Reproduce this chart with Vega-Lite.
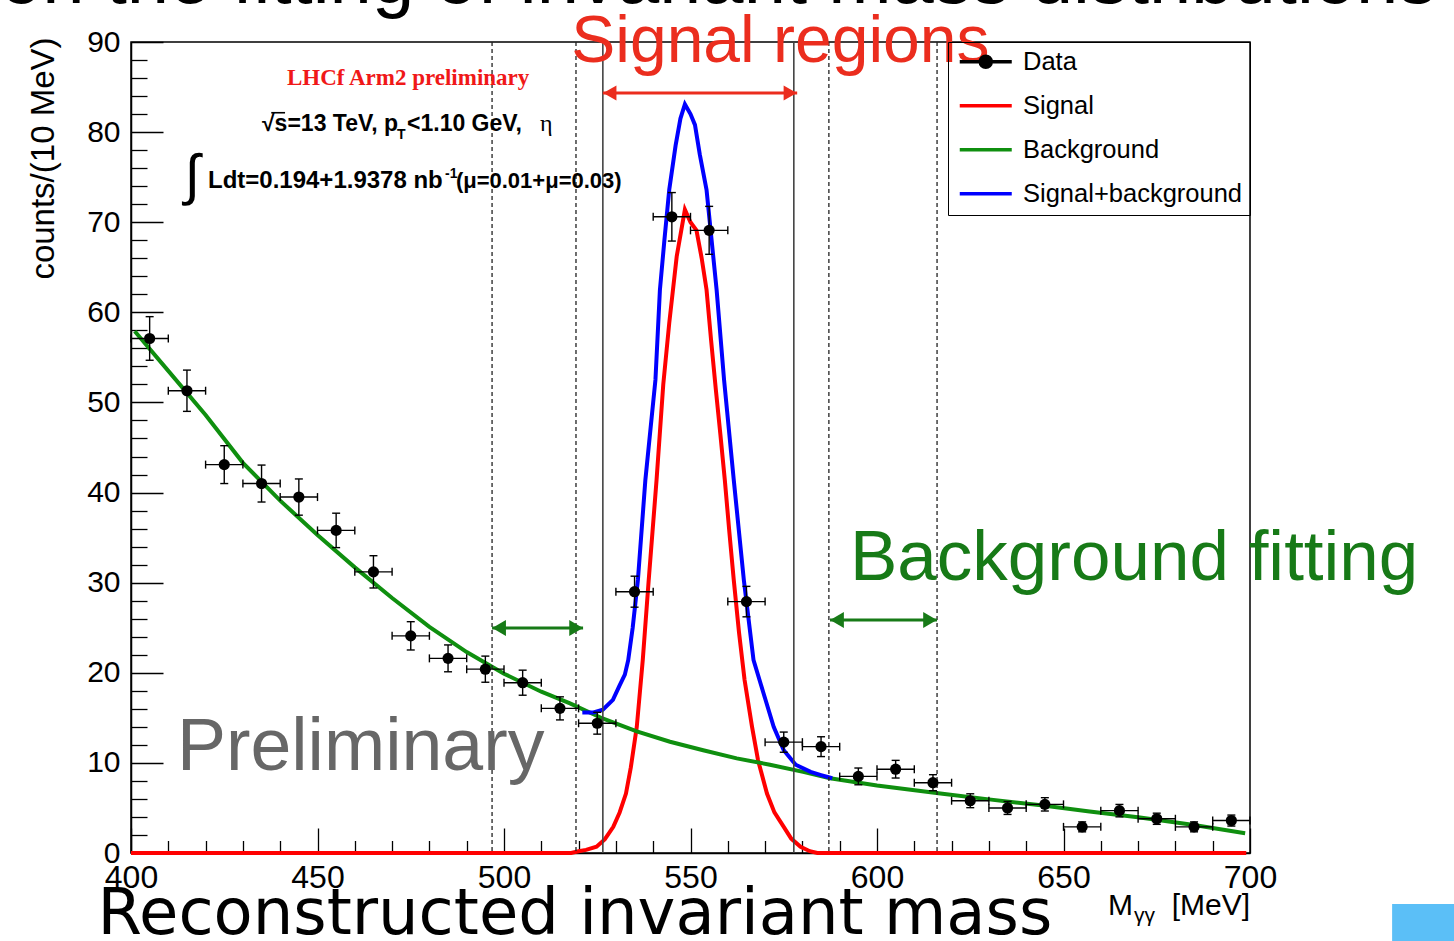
{
 "$schema": "https://vega.github.io/schema/vega-lite/v6.json",
 "width": 1119, "height": 811,
 "autosize": {"type": "none"},
 "padding": {"left": 131, "top": 42, "right": 204, "bottom": 88},
 "background": "white",
 "config": {"view": {"stroke": "black", "strokeWidth": 1.5}, "font": "Liberation Sans"},
 "datasets": {
  "pts": [
   {"m":405,"v":57.1,"lo":54.68,"hi":59.52,"ml":400,"mh":410,"s":"Data"},
   {"m":415,"v":51.3,"lo":49.01,"hi":53.59,"ml":410,"mh":420,"s":"Data"},
   {"m":425,"v":43.1,"lo":41.0,"hi":45.2,"ml":420,"mh":430,"s":"Data"},
   {"m":435,"v":41.0,"lo":38.95,"hi":43.05,"ml":430,"mh":440,"s":"Data"},
   {"m":445,"v":39.5,"lo":37.49,"hi":41.51,"ml":440,"mh":450,"s":"Data"},
   {"m":455,"v":35.8,"lo":33.89,"hi":37.71,"ml":450,"mh":460,"s":"Data"},
   {"m":465,"v":31.2,"lo":29.41,"hi":32.99,"ml":460,"mh":470,"s":"Data"},
   {"m":475,"v":24.1,"lo":22.53,"hi":25.67,"ml":470,"mh":480,"s":"Data"},
   {"m":485,"v":21.6,"lo":20.11,"hi":23.09,"ml":480,"mh":490,"s":"Data"},
   {"m":495,"v":20.4,"lo":18.95,"hi":21.85,"ml":490,"mh":500,"s":"Data"},
   {"m":505,"v":18.9,"lo":17.51,"hi":20.29,"ml":500,"mh":510,"s":"Data"},
   {"m":515,"v":16.05,"lo":14.77,"hi":17.33,"ml":510,"mh":520,"s":"Data"},
   {"m":525,"v":14.4,"lo":13.19,"hi":15.61,"ml":520,"mh":530,"s":"Data"},
   {"m":535,"v":29.0,"lo":27.28,"hi":30.72,"ml":530,"mh":540,"s":"Data"},
   {"m":545,"v":70.6,"lo":67.91,"hi":73.29,"ml":540,"mh":550,"s":"Data"},
   {"m":555,"v":69.1,"lo":66.44,"hi":71.76,"ml":550,"mh":560,"s":"Data"},
   {"m":565,"v":27.9,"lo":26.21,"hi":29.59,"ml":560,"mh":570,"s":"Data"},
   {"m":575,"v":12.3,"lo":11.18,"hi":13.42,"ml":570,"mh":580,"s":"Data"},
   {"m":585,"v":11.8,"lo":10.7,"hi":12.9,"ml":580,"mh":590,"s":"Data"},
   {"m":595,"v":8.5,"lo":7.57,"hi":9.43,"ml":590,"mh":600,"s":"Data"},
   {"m":605,"v":9.3,"lo":8.32,"hi":10.28,"ml":600,"mh":610,"s":"Data"},
   {"m":615,"v":7.8,"lo":6.91,"hi":8.69,"ml":610,"mh":620,"s":"Data"},
   {"m":625,"v":5.8,"lo":5.03,"hi":6.57,"ml":620,"mh":630,"s":"Data"},
   {"m":635,"v":5.0,"lo":4.28,"hi":5.72,"ml":630,"mh":640,"s":"Data"},
   {"m":645,"v":5.4,"lo":4.66,"hi":6.14,"ml":640,"mh":650,"s":"Data"},
   {"m":655,"v":2.9,"lo":2.35,"hi":3.45,"ml":650,"mh":660,"s":"Data"},
   {"m":665,"v":4.7,"lo":4.01,"hi":5.39,"ml":660,"mh":670,"s":"Data"},
   {"m":675,"v":3.8,"lo":3.18,"hi":4.42,"ml":670,"mh":680,"s":"Data"},
   {"m":685,"v":2.9,"lo":2.35,"hi":3.45,"ml":680,"mh":690,"s":"Data"},
   {"m":695,"v":3.6,"lo":2.99,"hi":4.21,"ml":690,"mh":700,"s":"Data"}
  ],
  "curves": [
   {"s":"Signal","m":400,"v":0},{"s":"Signal","m":518,"v":0},{"s":"Signal","m":520,"v":0.2},{"s":"Signal","m":522,"v":0.35},{"s":"Signal","m":524.8,"v":0.7},{"s":"Signal","m":527,"v":1.5},{"s":"Signal","m":529.3,"v":2.9},{"s":"Signal","m":531,"v":4.5},{"s":"Signal","m":532.7,"v":6.6},{"s":"Signal","m":534,"v":9.5},{"s":"Signal","m":535.6,"v":14},{"s":"Signal","m":537.2,"v":21.4},{"s":"Signal","m":538.8,"v":30.3},{"s":"Signal","m":540.9,"v":41.4},{"s":"Signal","m":542.7,"v":52},{"s":"Signal","m":544.3,"v":58.8},{"s":"Signal","m":546.3,"v":66.2},{"s":"Signal","m":548.5,"v":71.4},{"s":"Signal","m":550,"v":70},{"s":"Signal","m":551.6,"v":69.1},{"s":"Signal","m":553,"v":66},{"s":"Signal","m":554.3,"v":62.5},{"s":"Signal","m":555.5,"v":57},{"s":"Signal","m":556.8,"v":51.4},{"s":"Signal","m":558,"v":46.5},{"s":"Signal","m":559.2,"v":41.4},{"s":"Signal","m":560.4,"v":35.7},{"s":"Signal","m":561.6,"v":30.3},{"s":"Signal","m":563,"v":24.5},{"s":"Signal","m":564.5,"v":19.2},{"s":"Signal","m":566.5,"v":14},{"s":"Signal","m":568.1,"v":10.3},{"s":"Signal","m":570.5,"v":6.6},{"s":"Signal","m":572.5,"v":4.5},{"s":"Signal","m":575,"v":2.9},{"s":"Signal","m":577,"v":1.6},{"s":"Signal","m":579.5,"v":0.7},{"s":"Signal","m":582,"v":0.2},{"s":"Signal","m":584,"v":0},{"s":"Signal","m":699,"v":0},
   {"s":"Background","m":401,"v":57.9},{"s":"Background","m":410,"v":53.5},{"s":"Background","m":420,"v":48.6},{"s":"Background","m":430,"v":43.3},{"s":"Background","m":440,"v":39.1},{"s":"Background","m":450,"v":35.3},{"s":"Background","m":460,"v":31.7},{"s":"Background","m":470,"v":28.3},{"s":"Background","m":480,"v":25.1},{"s":"Background","m":490,"v":22.3},{"s":"Background","m":500,"v":19.9},{"s":"Background","m":510,"v":17.9},{"s":"Background","m":517.7,"v":16.6},{"s":"Background","m":526.6,"v":14.9},{"s":"Background","m":535.6,"v":13.5},{"s":"Background","m":544.5,"v":12.35},{"s":"Background","m":553.4,"v":11.4},{"s":"Background","m":562.4,"v":10.5},{"s":"Background","m":571.3,"v":9.8},{"s":"Background","m":580.2,"v":9.0},{"s":"Background","m":587.4,"v":8.3},{"s":"Background","m":600,"v":7.5},{"s":"Background","m":617,"v":6.6},{"s":"Background","m":630,"v":5.95},{"s":"Background","m":644,"v":5.3},{"s":"Background","m":657,"v":4.6},{"s":"Background","m":670.5,"v":3.95},{"s":"Background","m":685,"v":3.1},{"s":"Background","m":698.7,"v":2.2},
   {"s":"Signal+background","m":521,"v":15.6},{"s":"Signal+background","m":524,"v":15.6},{"s":"Signal+background","m":526.5,"v":15.9},{"s":"Signal+background","m":529.2,"v":17.0},{"s":"Signal+background","m":531,"v":18.6},{"s":"Signal+background","m":532.4,"v":19.8},{"s":"Signal+background","m":533.3,"v":21.4},{"s":"Signal+background","m":534.5,"v":25.0},{"s":"Signal+background","m":535.9,"v":30.3},{"s":"Signal+background","m":537.9,"v":41.4},{"s":"Signal+background","m":540.6,"v":52.5},{"s":"Signal+background","m":541.8,"v":62.5},{"s":"Signal+background","m":543,"v":68},{"s":"Signal+background","m":544.3,"v":73.6},{"s":"Signal+background","m":546,"v":78.5},{"s":"Signal+background","m":547.3,"v":81.5},{"s":"Signal+background","m":548.5,"v":83.1},{"s":"Signal+background","m":550,"v":82},{"s":"Signal+background","m":551.2,"v":80.8},{"s":"Signal+background","m":552.5,"v":77.5},{"s":"Signal+background","m":554.3,"v":73.6},{"s":"Signal+background","m":557,"v":62.5},{"s":"Signal+background","m":559,"v":52.5},{"s":"Signal+background","m":561.6,"v":41.4},{"s":"Signal+background","m":564.3,"v":30.3},{"s":"Signal+background","m":566.9,"v":21.4},{"s":"Signal+background","m":569.6,"v":17.7},{"s":"Signal+background","m":572.3,"v":14.0},{"s":"Signal+background","m":575,"v":11.4},{"s":"Signal+background","m":578.2,"v":9.8},{"s":"Signal+background","m":582.2,"v":9.0},{"s":"Signal+background","m":585,"v":8.65},{"s":"Signal+background","m":588,"v":8.3}
  ],
  "vlines": [
   {"m":496.8,"k":"dot"},{"m":519.3,"k":"dot"},{"m":587.1,"k":"dot"},{"m":616.1,"k":"dot"},
   {"m":526.5,"k":"solid"},{"m":577.7,"k":"solid"}
  ],
  "arrows": [
   {"k":"signal","a":526.5,"b":578.6,"v":84.34},
   {"k":"background","a":496.8,"b":521.2,"v":24.97},
   {"k":"background","a":587.4,"b":616.1,"v":25.86}
  ]
 },
 "layer": [
  {"data":{"name":"curves"},
   "mark":{"type":"line","strokeWidth":4},
   "encoding":{
    "x":{"field":"m","type":"quantitative","scale":{"domain":[400,700],"nice":false,"zero":false},
     "axis":{"values":[400,410,420,430,440,450,460,470,480,490,500,510,520,530,540,550,560,570,580,590,600,610,620,630,640,650,660,670,680,690,700],"tickCount":100,
      "tickSize":{"condition":{"test":"datum.value % 50 === 0","value":-25},"value":-12.5},
      "labelExpr":"datum.value % 50 === 0 ? datum.label : ''","labelPadding":34,"labelFont":"Liberation Sans","labelFontSize":32,"labelColor":"#000000",
      "labelFlush":false,"labelOverlap":false,"labelBound":false,"domainColor":"#000000","domainWidth":1.5,"tickColor":"#000000","tickWidth":1.3,"grid":false,"title":null}},
    "y":{"field":"v","type":"quantitative","scale":{"domain":[0,90],"nice":false,"zero":false},
     "axis":{"values":[0,2,4,6,8,10,12,14,16,18,20,22,24,26,28,30,32,34,36,38,40,42,44,46,48,50,52,54,56,58,60,62,64,66,68,70,72,74,76,78,80,82,84,86,88,90],"tickCount":100,
      "tickSize":{"condition":{"test":"datum.value % 10 === 0","value":-32},"value":-16},
      "labelExpr":"datum.value % 10 === 0 ? datum.label : ''","labelPadding":43,"labelFont":"Liberation Sans","labelFontSize":30,"labelColor":"#000000",
      "labelOverlap":false,"labelBound":false,"labelFlush":false,"domainColor":"#000000","domainWidth":1.5,"tickColor":"#000000","tickWidth":1.3,"grid":false,
      "title":"counts/(10 MeV)","titleFont":"Liberation Sans","titleFontSize":33,"titleFontWeight":"normal","titleColor":"#000000","titleAnchor":"end","titlePadding":26,"titleY":-5}},
    "color":{"field":"s","type":"nominal",
     "scale":{"domain":["Data","Signal","Background","Signal+background"],"range":["#000000","#ff0000","#0f8f0f","#0000ff"]},
     "legend":{"orient":"top-right","offset":0,"title":null,"padding":7,"fillColor":"transparent","strokeColor":"black","cornerRadius":0,"zindex":-1,
      "rowPadding":17,
      "symbolType":{"expr":"datum.value === 'Data' ? 'M-2.6,0H2.6M-0.55,0A0.55,0.55,0,1,0,0.55,0A0.55,0.55,0,1,0,-0.55,0Z' : 'M-2.6,0H2.6'"},
      "symbolFillColor":{"expr":"datum.value === 'Data' ? '#000000' : 'transparent'"},
      "symbolSize":400,"symbolStrokeWidth":3.5,"symbolOffset":18,
      "labelOffset":24.5,"labelFont":"Liberation Sans","labelFontSize":25.5,"labelColor":"#000000","labelLimit":400}}
   }},
  {"data":{"name":"vlines"},"transform":[{"filter":"datum.k === 'dot'"}],
   "mark":{"type":"rule","stroke":"#222222","strokeWidth":1.3,"strokeDash":[4,3]},
   "encoding":{"x":{"field":"m","type":"quantitative","scale":{"domain":[400,700],"nice":false,"zero":false}}}},
  {"data":{"name":"vlines"},"transform":[{"filter":"datum.k === 'solid'"}],
   "mark":{"type":"rule","stroke":"#444444","strokeWidth":1.6},
   "encoding":{"x":{"field":"m","type":"quantitative","scale":{"domain":[400,700],"nice":false,"zero":false}}}},
  {"data":{"name":"arrows"},"transform":[{"filter":"datum.k === 'signal'"}],
   "mark":{"type":"rule","stroke":"#eb2d1e","strokeWidth":3},
   "encoding":{"x":{"field":"a","type":"quantitative","scale":{"domain":[400,700],"nice":false,"zero":false}},"x2":{"field":"b"},"y":{"field":"v","type":"quantitative","scale":{"domain":[0,90],"nice":false,"zero":false}}}},
  {"data":{"name":"arrows"},"transform":[{"filter":"datum.k === 'signal'"}],
   "mark":{"type":"point","shape":"triangle-right","filled":true,"color":"#eb2d1e","opacity":1,"size":230,"xOffset":-7},
   "encoding":{"x":{"field":"b","type":"quantitative","scale":{"domain":[400,700],"nice":false,"zero":false}},"y":{"field":"v","type":"quantitative","scale":{"domain":[0,90],"nice":false,"zero":false}}}},
  {"data":{"name":"arrows"},"transform":[{"filter":"datum.k === 'signal'"}],
   "mark":{"type":"point","shape":"triangle-left","filled":true,"color":"#eb2d1e","opacity":1,"size":230,"xOffset":7},
   "encoding":{"x":{"field":"a","type":"quantitative","scale":{"domain":[400,700],"nice":false,"zero":false}},"y":{"field":"v","type":"quantitative","scale":{"domain":[0,90],"nice":false,"zero":false}}}},
  {"data":{"name":"arrows"},"transform":[{"filter":"datum.k === 'background'"}],
   "mark":{"type":"rule","stroke":"#177a17","strokeWidth":3},
   "encoding":{"x":{"field":"a","type":"quantitative","scale":{"domain":[400,700],"nice":false,"zero":false}},"x2":{"field":"b"},"y":{"field":"v","type":"quantitative","scale":{"domain":[0,90],"nice":false,"zero":false}}}},
  {"data":{"name":"arrows"},"transform":[{"filter":"datum.k === 'background'"}],
   "mark":{"type":"point","shape":"triangle-right","filled":true,"color":"#177a17","opacity":1,"size":250,"xOffset":-7},
   "encoding":{"x":{"field":"b","type":"quantitative","scale":{"domain":[400,700],"nice":false,"zero":false}},"y":{"field":"v","type":"quantitative","scale":{"domain":[0,90],"nice":false,"zero":false}}}},
  {"data":{"name":"arrows"},"transform":[{"filter":"datum.k === 'background'"}],
   "mark":{"type":"point","shape":"triangle-left","filled":true,"color":"#177a17","opacity":1,"size":250,"xOffset":7},
   "encoding":{"x":{"field":"a","type":"quantitative","scale":{"domain":[400,700],"nice":false,"zero":false}},"y":{"field":"v","type":"quantitative","scale":{"domain":[0,90],"nice":false,"zero":false}}}},
  {"data":{"name":"pts"},
   "mark":{"type":"rule","stroke":"#000000","strokeWidth":1.4},
   "encoding":{"x":{"field":"m","type":"quantitative","scale":{"domain":[400,700],"nice":false,"zero":false}},"y":{"field":"lo","type":"quantitative","scale":{"domain":[0,90],"nice":false,"zero":false}},"y2":{"field":"hi"}}},
  {"data":{"name":"pts"},
   "mark":{"type":"rule","stroke":"#000000","strokeWidth":1.4},
   "encoding":{"x":{"field":"ml","type":"quantitative","scale":{"domain":[400,700],"nice":false,"zero":false}},"x2":{"field":"mh"},"y":{"field":"v","type":"quantitative","scale":{"domain":[0,90],"nice":false,"zero":false}}}},
  {"data":{"name":"pts"},
   "mark":{"type":"tick","orient":"horizontal","size":8,"thickness":1.4,"color":"#000000","opacity":1},
   "encoding":{"x":{"field":"m","type":"quantitative","scale":{"domain":[400,700],"nice":false,"zero":false}},"y":{"field":"hi","type":"quantitative","scale":{"domain":[0,90],"nice":false,"zero":false}}}},
  {"data":{"name":"pts"},
   "mark":{"type":"tick","orient":"horizontal","size":8,"thickness":1.4,"color":"#000000","opacity":1},
   "encoding":{"x":{"field":"m","type":"quantitative","scale":{"domain":[400,700],"nice":false,"zero":false}},"y":{"field":"lo","type":"quantitative","scale":{"domain":[0,90],"nice":false,"zero":false}}}},
  {"data":{"name":"pts"},
   "mark":{"type":"tick","orient":"vertical","size":8,"thickness":1.4,"color":"#000000","opacity":1},
   "encoding":{"x":{"field":"ml","type":"quantitative","scale":{"domain":[400,700],"nice":false,"zero":false}},"y":{"field":"v","type":"quantitative","scale":{"domain":[0,90],"nice":false,"zero":false}}}},
  {"data":{"name":"pts"},
   "mark":{"type":"tick","orient":"vertical","size":8,"thickness":1.4,"color":"#000000","opacity":1},
   "encoding":{"x":{"field":"mh","type":"quantitative","scale":{"domain":[400,700],"nice":false,"zero":false}},"y":{"field":"v","type":"quantitative","scale":{"domain":[0,90],"nice":false,"zero":false}}}},
  {"data":{"name":"pts"},
   "mark":{"type":"point","filled":true,"size":125,"opacity":1},
   "encoding":{"x":{"field":"m","type":"quantitative","scale":{"domain":[400,700],"nice":false,"zero":false}},"y":{"field":"v","type":"quantitative","scale":{"domain":[0,90],"nice":false,"zero":false}},"color":{"field":"s","type":"nominal","legend":null}}},
  {"data":{"values":[{"a":738.1,"b":770,"c":-5.66,"d":-12}]},
   "mark":{"type":"rect","color":"#5bbff7"},
   "encoding":{"x":{"field":"a","type":"quantitative","scale":{"domain":[400,700],"nice":false,"zero":false}},"x2":{"field":"b"},"y":{"field":"c","type":"quantitative","scale":{"domain":[0,90],"nice":false,"zero":false}},"y2":{"field":"d"}}},
  {"data":{"values":[{"a":437.6,"b":441.3,"c":82.15}]},
   "mark":{"type":"rule","stroke":"#000000","strokeWidth":1.6},
   "encoding":{"x":{"field":"a","type":"quantitative","scale":{"domain":[400,700],"nice":false,"zero":false}},"x2":{"field":"b"},"y":{"field":"c","type":"quantitative","scale":{"domain":[0,90],"nice":false,"zero":false}}}},
  {"data":{"values":[{"x":364.9,"y":94.33,"t":"on the fitting of invariant mass distributions"}]},
   "mark":{"type":"text","font":"Liberation Sans","fontSize":76,"color":"#000000","align":"left","baseline":"alphabetic"},
   "encoding":{"x":{"field":"x","type":"quantitative","scale":{"domain":[400,700],"nice":false,"zero":false}},"y":{"field":"y","type":"quantitative","scale":{"domain":[0,90],"nice":false,"zero":false}},"text":{"field":"t"}}},
  {"data":{"values":[{"x":574.1,"y":87.78,"t":"Signal regions"}]},
   "mark":{"type":"text","font":"Liberation Sans","fontSize":66,"color":"#eb2d1e","align":"center","baseline":"alphabetic"},
   "encoding":{"x":{"field":"x","type":"quantitative","scale":{"domain":[400,700],"nice":false,"zero":false}},"y":{"field":"y","type":"quantitative","scale":{"domain":[0,90],"nice":false,"zero":false}},"text":{"field":"t"}}},
  {"data":{"values":[{"x":474.3,"y":85.23,"t":"LHCf Arm2 preliminary"}]},
   "mark":{"type":"text","font":"Liberation Serif","fontWeight":"bold","fontSize":23,"color":"#f01818","align":"center","baseline":"alphabetic"},
   "encoding":{"x":{"field":"x","type":"quantitative","scale":{"domain":[400,700],"nice":false,"zero":false}},"y":{"field":"y","type":"quantitative","scale":{"domain":[0,90],"nice":false,"zero":false}},"text":{"field":"t"}}},
  {"data":{"values":[{"x":435.12,"y":80.12,"t":"√s=13 TeV, p"},{"x":474.0,"y":80.12,"t":"<1.10 GeV,"}]},
   "mark":{"type":"text","font":"Liberation Sans","fontWeight":"bold","fontSize":23,"color":"#000000","align":"left","baseline":"alphabetic"},
   "encoding":{"x":{"field":"x","type":"quantitative","scale":{"domain":[400,700],"nice":false,"zero":false}},"y":{"field":"y","type":"quantitative","scale":{"domain":[0,90],"nice":false,"zero":false}},"text":{"field":"t"}}},
  {"data":{"values":[{"x":420.64,"y":73.8,"t":"Ldt=0.194+1.9378 nb"}]},
   "mark":{"type":"text","font":"Liberation Sans","fontWeight":"bold","fontSize":24,"color":"#000000","align":"left","baseline":"alphabetic"},
   "encoding":{"x":{"field":"x","type":"quantitative","scale":{"domain":[400,700],"nice":false,"zero":false}},"y":{"field":"y","type":"quantitative","scale":{"domain":[0,90],"nice":false,"zero":false}},"text":{"field":"t"}}},
  {"data":{"values":[{"x":487.1,"y":73.8,"t":"(μ=0.01+μ=0.03)"}]},
   "mark":{"type":"text","font":"Liberation Sans","fontWeight":"bold","fontSize":22,"color":"#000000","align":"left","baseline":"alphabetic"},
   "encoding":{"x":{"field":"x","type":"quantitative","scale":{"domain":[400,700],"nice":false,"zero":false}},"y":{"field":"y","type":"quantitative","scale":{"domain":[0,90],"nice":false,"zero":false}},"text":{"field":"t"}}},
  {"data":{"values":[{"x":471.3,"y":79.23,"t":"T"},{"x":484.2,"y":74.9,"t":"-1"}]},
   "mark":{"type":"text","font":"Liberation Sans","fontWeight":"bold","fontSize":14,"color":"#000000","align":"left","baseline":"alphabetic"},
   "encoding":{"x":{"field":"x","type":"quantitative","scale":{"domain":[400,700],"nice":false,"zero":false}},"y":{"field":"y","type":"quantitative","scale":{"domain":[0,90],"nice":false,"zero":false}},"text":{"field":"t"}}},
  {"data":{"values":[{"x":509.65,"y":80.12,"t":"η"}]},
   "mark":{"type":"text","font":"Liberation Serif","fontSize":24,"color":"#000000","align":"left","baseline":"alphabetic"},
   "encoding":{"x":{"field":"x","type":"quantitative","scale":{"domain":[400,700],"nice":false,"zero":false}},"y":{"field":"y","type":"quantitative","scale":{"domain":[0,90],"nice":false,"zero":false}},"text":{"field":"t"}}},
  {"data":{"values":[{"x":414.4,"y":73.13,"t":"∫"}]},
   "mark":{"type":"text","font":"Liberation Sans","fontSize":56,"color":"#000000","align":"left","baseline":"alphabetic"},
   "encoding":{"x":{"field":"x","type":"quantitative","scale":{"domain":[400,700],"nice":false,"zero":false}},"y":{"field":"y","type":"quantitative","scale":{"domain":[0,90],"nice":false,"zero":false}},"text":{"field":"t"}}},
  {"data":{"values":[{"x":592.76,"y":30.3,"t":"Background fitting"}]},
   "mark":{"type":"text","font":"Liberation Sans","fontSize":71,"color":"#177a17","align":"left","baseline":"alphabetic"},
   "encoding":{"x":{"field":"x","type":"quantitative","scale":{"domain":[400,700],"nice":false,"zero":false}},"y":{"field":"y","type":"quantitative","scale":{"domain":[0,90],"nice":false,"zero":false}},"text":{"field":"t"}}},
  {"data":{"values":[{"x":412.3,"y":9.21,"t":"Preliminary"}]},
   "mark":{"type":"text","font":"Liberation Sans","fontSize":73.5,"color":"#676767","align":"left","baseline":"alphabetic"},
   "encoding":{"x":{"field":"x","type":"quantitative","scale":{"domain":[400,700],"nice":false,"zero":false}},"y":{"field":"y","type":"quantitative","scale":{"domain":[0,90],"nice":false,"zero":false}},"text":{"field":"t"}}},
  {"data":{"values":[{"x":391.0,"y":-8.99,"t":"Reconstructed invariant mass"}]},
   "mark":{"type":"text","font":"DejaVu Sans","fontSize":64,"color":"#000000","align":"left","baseline":"alphabetic"},
   "encoding":{"x":{"field":"x","type":"quantitative","scale":{"domain":[400,700],"nice":false,"zero":false}},"y":{"field":"y","type":"quantitative","scale":{"domain":[0,90],"nice":false,"zero":false}},"text":{"field":"t"}}},
  {"data":{"values":[{"x":661.9,"y":-6.88,"t":"M"}]},
   "mark":{"type":"text","font":"Liberation Sans","fontSize":30,"color":"#000000","align":"left","baseline":"alphabetic"},
   "encoding":{"x":{"field":"x","type":"quantitative","scale":{"domain":[400,700],"nice":false,"zero":false}},"y":{"field":"y","type":"quantitative","scale":{"domain":[0,90],"nice":false,"zero":false}},"text":{"field":"t"}}},
  {"data":{"values":[{"x":668.9,"y":-7.66,"t":"γγ"}]},
   "mark":{"type":"text","font":"Liberation Sans","fontSize":21,"color":"#000000","align":"left","baseline":"alphabetic"},
   "encoding":{"x":{"field":"x","type":"quantitative","scale":{"domain":[400,700],"nice":false,"zero":false}},"y":{"field":"y","type":"quantitative","scale":{"domain":[0,90],"nice":false,"zero":false}},"text":{"field":"t"}}},
  {"data":{"values":[{"x":700,"y":-6.88,"t":"[MeV]"}]},
   "mark":{"type":"text","font":"Liberation Sans","fontSize":30,"color":"#000000","align":"right","baseline":"alphabetic"},
   "encoding":{"x":{"field":"x","type":"quantitative","scale":{"domain":[400,700],"nice":false,"zero":false}},"y":{"field":"y","type":"quantitative","scale":{"domain":[0,90],"nice":false,"zero":false}},"text":{"field":"t"}}}
 ]
}
